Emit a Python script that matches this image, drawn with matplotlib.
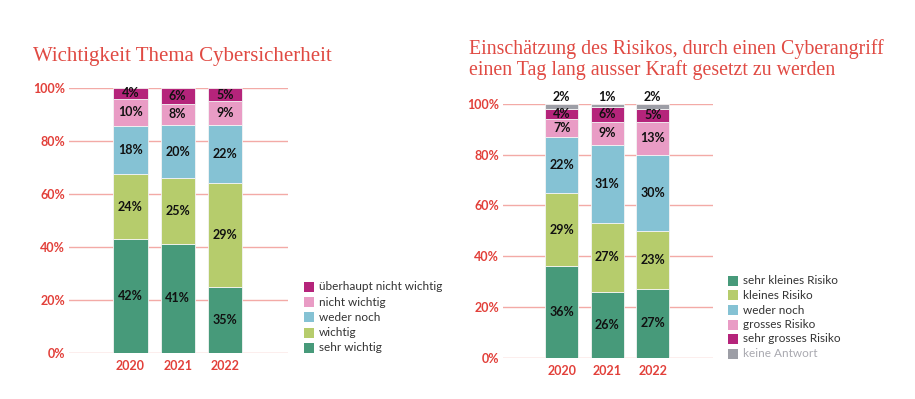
import matplotlib
matplotlib.use("Agg")
import matplotlib.pyplot as plt
from matplotlib.patches import Rectangle
import numpy as np

# ---------------- data ----------------
years = ["2020", "2021", "2022"]

# Left chart: Wichtigkeit Thema Cybersicherheit (segment sizes as drawn, printed labels)
left_categories = ["sehr wichtig", "wichtig", "weder noch", "nicht wichtig", "überhaupt nicht wichtig"]
left_sehr_wichtig = [42, 41, 25]
left_wichtig = [24, 25, 39]
left_weder_noch = [18, 20, 22]
left_nicht_wichtig = [10, 8, 9]
left_ueberhaupt_nicht = [4, 6, 5]
left_labels_sehr_wichtig = ["42%", "41%", "35%"]
left_labels_wichtig = ["24%", "25%", "29%"]
left_labels_weder_noch = ["18%", "20%", "22%"]
left_labels_nicht_wichtig = ["10%", "8%", "9%"]
left_labels_ueberhaupt_nicht = ["4%", "6%", "5%"]

# Right chart: Einschätzung des Risikos
right_categories = ["sehr kleines Risiko", "kleines Risiko", "weder noch",
                    "grosses Risiko", "sehr grosses Risiko", "keine Antwort"]
right_sehr_klein = [36, 26, 27]
right_klein = [29, 27, 23]
right_weder_noch = [22, 31, 30]
right_gross = [7, 9, 13]
right_sehr_gross = [4, 6, 5]
right_keine_antwort = [2, 1, 2]

yticks = [0, 20, 40, 60, 80, 100]
ytick_labels = ["0%", "20%", "40%", "60%", "80%", "100%"]

# ---------------- style ----------------
C_DKGREEN = "#479a7a"
C_LTGREEN = "#b6cc6c"
C_BLUE = "#85c2d4"
C_PINK = "#e99cc5"
C_MAGENTA = "#b5247b"
C_GREY = "#9d9ea6"
C_RED = "#e2403a"
C_TITLE = "#e04a43"
C_GRID = "#f3aaa6"

plt.rcParams["font.family"] = ["Lato", "DejaVu Sans"]

W, H = 915, 399
fig = plt.figure(figsize=(W / 100, H / 100), dpi=100)


def fx(px):
    return px / W


def fy(py):
    return 1 - py / H


def setup_axes(ax, xlim):
    ax.set_xlim(*xlim)
    ax.set_ylim(0, 100)
    for s in ax.spines.values():
        s.set_visible(False)
    for t in yticks:
        ax.axhline(t, color=C_GRID, lw=1.0, zorder=0)
    ax.set_yticks(yticks, ytick_labels)
    ax.set_xticks(range(len(years)), years)
    ax.tick_params(axis="both", length=0, labelcolor=C_RED, labelsize=9)
    ax.tick_params(axis="y", pad=3)
    ax.tick_params(axis="x", pad=5)
    for lab in ax.get_xticklabels() + ax.get_yticklabels():
        lab.set_fontweight("bold")
    ax.patch.set_alpha(0)


def stacked(ax, series, colors, labels, norm=True):
    x = np.arange(len(years))
    arr = np.array(series, dtype=float)
    if norm:
        arr = arr / arr.sum(axis=0) * 100
    bottom = np.zeros(len(years))
    for vals, col, labs in zip(arr, colors, labels):
        ax.bar(x, vals, bottom=bottom, width=0.725, color=col,
               edgecolor="#f4f4f4", linewidth=0.6, zorder=2)
        if labs is not None:
            for xi, b, v, lab in zip(x, bottom, vals, labs):
                ax.text(xi, b + v / 2, lab, ha="center", va="center",
                        fontsize=9, fontweight="bold", color="#111111", zorder=3)
        bottom = bottom + vals
    return bottom


# ---------- left chart ----------
axL = fig.add_axes([fx(69.3), fy(352.7), fx(218.4), 264.7 / H])
setup_axes(axL, (-1.295, 3.327))
stacked(axL,
        [left_sehr_wichtig, left_wichtig, left_weder_noch, left_nicht_wichtig, left_ueberhaupt_nicht],
        [C_DKGREEN, C_LTGREEN, C_BLUE, C_PINK, C_MAGENTA],
        [left_labels_sehr_wichtig, left_labels_wichtig, left_labels_weder_noch,
         left_labels_nicht_wichtig, left_labels_ueberhaupt_nicht])

fig.text(fx(33), fy(61.2), "Wichtigkeit Thema Cybersicherheit", ha="left", va="baseline",
         fontsize=15, color=C_TITLE, family=["Liberation Serif", "DejaVu Serif"])

# ---------- right chart ----------
axR = fig.add_axes([fx(503.3), fy(357.7), fx(210), 253.7 / H])
setup_axes(axR, (-1.286, 3.33))
right_series = [right_sehr_klein, right_klein, right_weder_noch, right_gross,
                right_sehr_gross, right_keine_antwort]
right_cols = [C_DKGREEN, C_LTGREEN, C_BLUE, C_PINK, C_MAGENTA, C_GREY]
right_labs = [[f"{v}%" for v in s] for s in right_series[:-1]] + [None]
stacked(axR, right_series, right_cols, right_labs, norm=False)
for xi, v in enumerate(right_keine_antwort):
    axR.text(xi, 102.6, f"{v}%", ha="center", va="center", fontsize=9,
             fontweight="bold", color="#111111")

fig.text(fx(469), fy(54), "Einschätzung des Risikos, durch einen Cyberangriff", ha="left",
         va="baseline", fontsize=14.3, color=C_TITLE, family=["Liberation Serif", "DejaVu Serif"])
fig.text(fx(469), fy(75), "einen Tag lang ausser Kraft gesetzt zu werden", ha="left",
         va="baseline", fontsize=14.3, color=C_TITLE, family=["Liberation Serif", "DejaVu Serif"])

# ---------- legends ----------
def legend(x_sq, x_txt, rows, names, colors, text_colors):
    for yc, name, col, tc in zip(rows, names, colors, text_colors):
        fig.add_artist(Rectangle((fx(x_sq), fy(yc + 5)), fx(10), 10 / H,
                                 transform=fig.transFigure, color=col, lw=0))
        fig.text(fx(x_txt), fy(yc), name, ha="left", va="center", fontsize=8.5,
                 color=tc)


legend(304, 318.7, [286.7, 302, 317.3, 332.7, 347.7],
       left_categories[::-1], [C_MAGENTA, C_PINK, C_BLUE, C_LTGREEN, C_DKGREEN],
       ["#333333"] * 5)
legend(728.3, 742.7, [280.7, 295.3, 310, 324.7, 339, 353.7],
       right_categories, right_cols, ["#333333"] * 5 + ["#a9a9b0"])

fig.savefig("out.png", dpi=100)
